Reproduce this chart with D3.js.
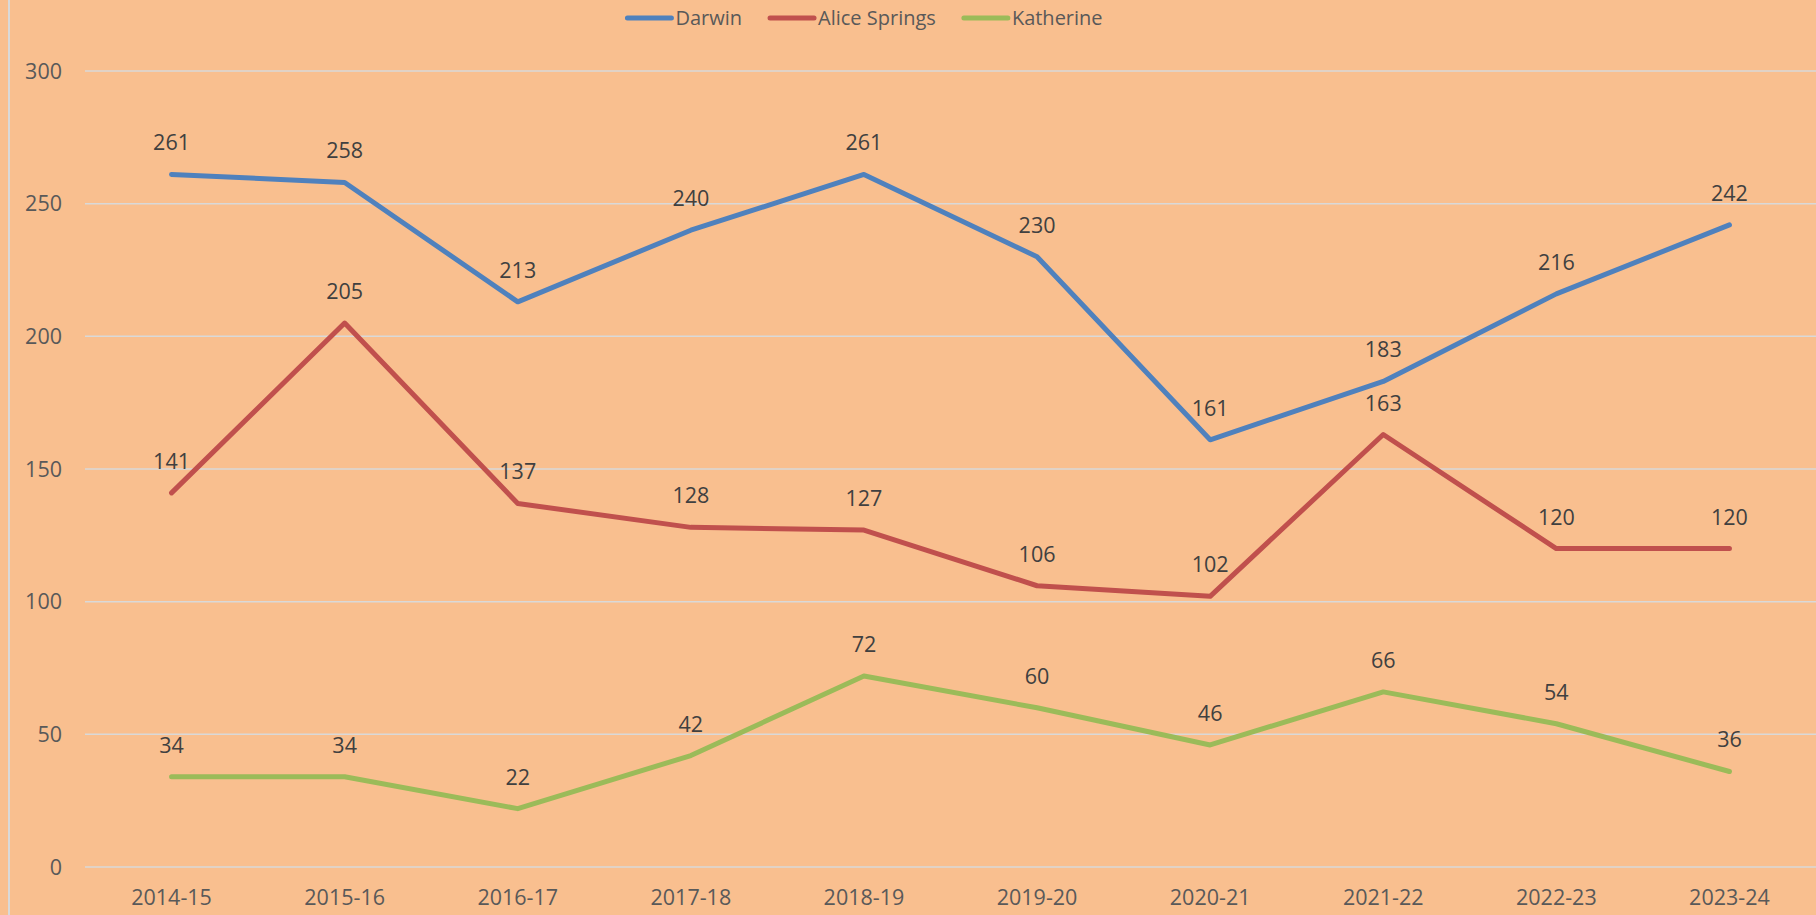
<!DOCTYPE html>
<html>
<head>
<meta charset="utf-8">
<script src="https://cdn.jsdelivr.net/npm/d3@7"></script>
<style>
  html, body { margin: 0; padding: 0; background: #f9bf8f; }
  svg { display: block; }
</style>
</head>
<body>
<svg id="chart" width="1816" height="915"></svg>
<script>
const years = ['2014-15', '2015-16', '2016-17', '2017-18', '2018-19', '2019-20', '2020-21', '2021-22', '2022-23', '2023-24'];
const darwin = [261, 258, 213, 240, 261, 230, 161, 183, 216, 242];
const aliceSprings = [141, 205, 137, 128, 127, 106, 102, 163, 120, 120];
const katherine = [34, 34, 22, 42, 72, 60, 46, 66, 54, 36];
const yTicks = [0, 50, 100, 150, 200, 250, 300];

const series = [
  { name: 'Darwin', values: darwin, color: '#4f81bd' },
  { name: 'Alice Springs', values: aliceSprings, color: '#c0504d' },
  { name: 'Katherine', values: katherine, color: '#9bbb59' }
];

const svg = d3.select('#chart'),
    width = +svg.attr('width'),
    height = +svg.attr('height');

const margin = { top: 71, right: 0, bottom: 48, left: 85 };
const font = "'Open Sans', sans-serif";
const fontSize = 21.5;

svg.append('rect').attr('width', width).attr('height', height).attr('fill', '#f9bf8f');
// thin frame line on the left
svg.append('line')
    .attr('x1', 9).attr('x2', 9).attr('y1', 0).attr('y2', height)
    .attr('stroke', '#d9d9d9').attr('stroke-width', 2);

const x = d3.scaleBand().domain(years).range([margin.left, width - margin.right]);
const y = d3.scaleLinear().domain([0, 300]).range([height - margin.bottom, margin.top]);
const cx = (i) => x(years[i]) + x.bandwidth() / 2;

// gridlines
svg.append('g').selectAll('line')
    .data(yTicks)
    .enter().append('line')
      .attr('x1', margin.left).attr('x2', width - margin.right)
      .attr('y1', d => y(d)).attr('y2', d => y(d))
      .attr('stroke', '#d9d9d9').attr('stroke-width', 1.5);

// y labels
svg.append('g').selectAll('text')
    .data(yTicks)
    .enter().append('text')
      .attr('x', 62).attr('y', d => y(d))
      .attr('dy', '0.35em')
      .attr('text-anchor', 'end')
      .attr('font-family', font).attr('font-size', fontSize)
      .attr('fill', '#595959')
      .text(d => d);

// x labels
svg.append('g').selectAll('text')
    .data(years)
    .enter().append('text')
      .attr('x', (d, i) => cx(i))
      .attr('y', 897)
      .attr('dy', '0.35em')
      .attr('text-anchor', 'middle')
      .attr('font-family', font).attr('font-size', fontSize)
      .attr('fill', '#595959')
      .text(d => d);

const line = d3.line()
    .x((d, i) => cx(i))
    .y(d => y(d));

series.forEach(s => {
  svg.append('path')
      .datum(s.values)
      .attr('d', line)
      .attr('fill', 'none')
      .attr('stroke', s.color)
      .attr('stroke-width', 5)
      .attr('stroke-linejoin', 'round')
      .attr('stroke-linecap', 'round');

  svg.append('g').selectAll('text')
      .data(s.values)
      .enter().append('text')
        .attr('x', (d, i) => cx(i))
        .attr('y', d => y(d) - 24)
        .attr('text-anchor', 'middle')
        .attr('font-family', font).attr('font-size', fontSize)
        .attr('fill', '#404040')
        .text(d => d);
});

// legend, laid out from measured text widths and centred
const legend = svg.append('g');
const items = legend.selectAll('g')
    .data(series)
    .enter().append('g');
items.append('line')
    .attr('x1', 0).attr('x2', 44)
    .attr('stroke', d => d.color)
    .attr('stroke-width', 5)
    .attr('stroke-linecap', 'round');
items.append('text')
    .attr('x', 48).attr('dy', '0.35em')
    .attr('font-family', font).attr('font-size', 20)
    .attr('fill', '#595959')
    .text(d => d.name);

var gap = 28;
var pos = 0;
items.each(function() {
  var g = d3.select(this);
  var w = 48 + g.select('text').node().getComputedTextLength();
  g.attr('transform', 'translate(' + pos + ',18)');
  pos += w + gap;
});
pos -= gap;
legend.attr('transform', 'translate(' + (865 - pos / 2) + ',0)');
</script>
</body>
</html>
